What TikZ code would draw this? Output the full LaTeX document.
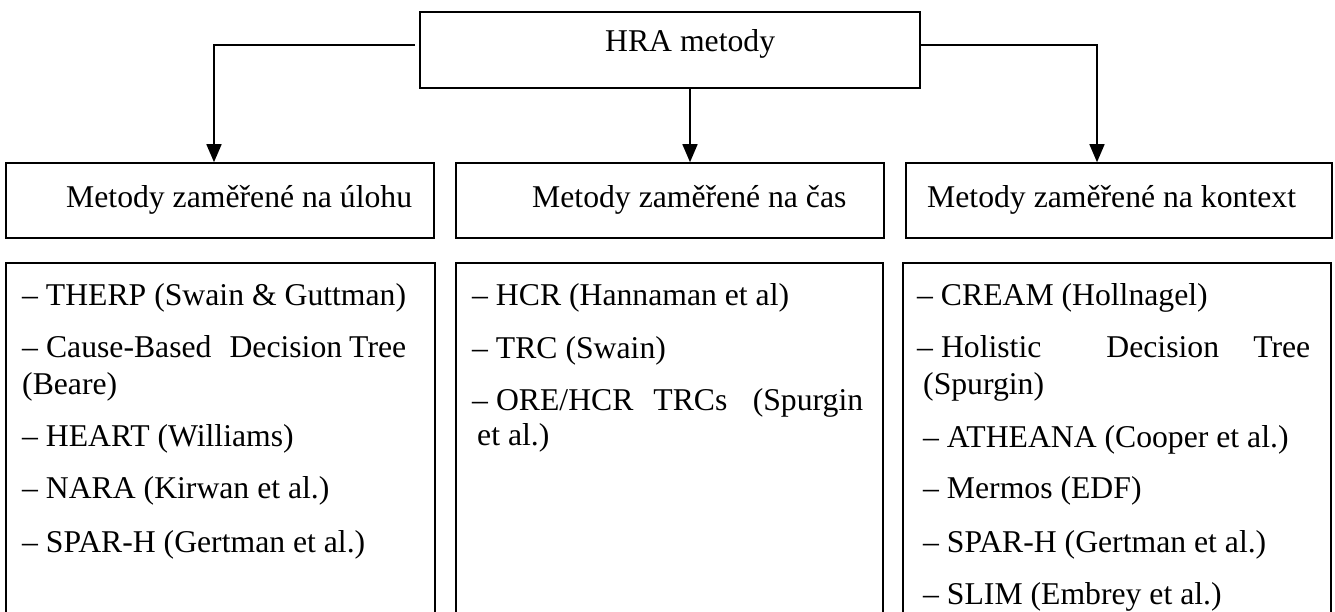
\documentclass[tikz,border=0pt]{standalone}
\usepackage{fontspec}
\setmainfont{Liberation Serif}
\usetikzlibrary{arrows.meta}
\begin{document}
\begin{tikzpicture}[x=1pt,y=-1pt,
  box/.style={draw, line width=1.6pt, inner sep=0pt},
  txt/.style={anchor=base west, inner sep=0pt, font=\fontsize{31.7}{36.5}\selectfont},
  conn/.style={line width=1.6pt},
  arr/.style={-{Triangle[length=18pt,width=15pt]}}]
\useasboundingbox (0,0) rectangle (1335,612);
\clip (0,0) rectangle (1335,612);

% top box
\node[box, minimum width=500pt, minimum height=76pt] (top) at (670,50) {};
\node[txt] (toptxt) at (605,52) {HRA metody};

% middle row
\node[box, minimum width=428pt, minimum height=75pt] (lmid) at (220,200.5) {};
\node[box, minimum width=428pt, minimum height=75pt] (cmid) at (670,200.5) {};
\node[box, minimum width=426pt, minimum height=75pt] (rmid) at (1119,200.5) {};
\node[txt] (lmidtxt) at (66,208) {Metody zaměřené na úlohu};
\node[txt] (cmidtxt) at (532,208) {Metody zaměřené na čas};
\node[txt] (rmidtxt) at (927,208) {Metody zaměřené na kontext};

% bottom row
\node[box, minimum width=429pt, minimum height=400pt] (lbot) at (220.5,463) {};
\node[box, minimum width=427pt, minimum height=400pt] (cbot) at (669.5,463) {};
\node[box, minimum width=428pt, minimum height=400pt] (rbot) at (1117,463) {};

% left column items
\node[txt] (l1) at (22,305) {– THERP (Swain \& Guttman)};
\node[txt] (l2) at (22,357) {\makebox[384pt][l]{–\hspace{8pt}Cause-Based\hspace{18pt}Decision\hfill Tree}};
\node[txt] (l2b) at (22,394) {(Beare)};
\node[txt] (l3) at (22,446) {– HEART (Williams)};
\node[txt] (l4) at (22,498) {– NARA (Kirwan et al.)};
\node[txt] (l5) at (22,552) {– SPAR-H (Gertman et al.)};

% middle column items
\node[txt] (c1) at (472,305) {– HCR (Hannaman et al)};
\node[txt] (c2) at (472,358) {– TRC (Swain)};
\node[txt] (c3) at (472,410) {\makebox[391pt][l]{–\hspace{8pt}ORE/HCR\hspace{20pt}TRCs\hfill(Spurgin}};
\node[txt] (c3b) at (477,445) {et al.)};

% right column items
\node[txt] (r1) at (917,305) {– CREAM (Hollnagel)};
\node[txt] (r2) at (917,357) {\makebox[393pt][l]{–\hspace{8pt}Holistic\hspace{65pt}Decision\hfill Tree}};
\node[txt] (r2b) at (923,394) {(Spurgin)};
\node[txt] (r3) at (923,447) {– ATHEANA (Cooper et al.)};
\node[txt] (r4) at (923,498) {– Mermos (EDF)};
\node[txt] (r5) at (923,552) {– SPAR-H (Gertman et al.)};
\node[txt] (r6) at (923,604) {– SLIM (Embrey et al.)};

% connectors
\draw[conn, arr, shorten <=4pt] ([yshift=5pt]top.west) -| ([xshift=-6pt]lmid.north);
\draw[conn, arr] ([yshift=5pt]top.east) -| ([xshift=-22pt]rmid.north);
\draw[conn, arr] ([xshift=20pt]top.south) -- ([xshift=20pt]top.south |- cmid.north);
\end{tikzpicture}
\end{document}
